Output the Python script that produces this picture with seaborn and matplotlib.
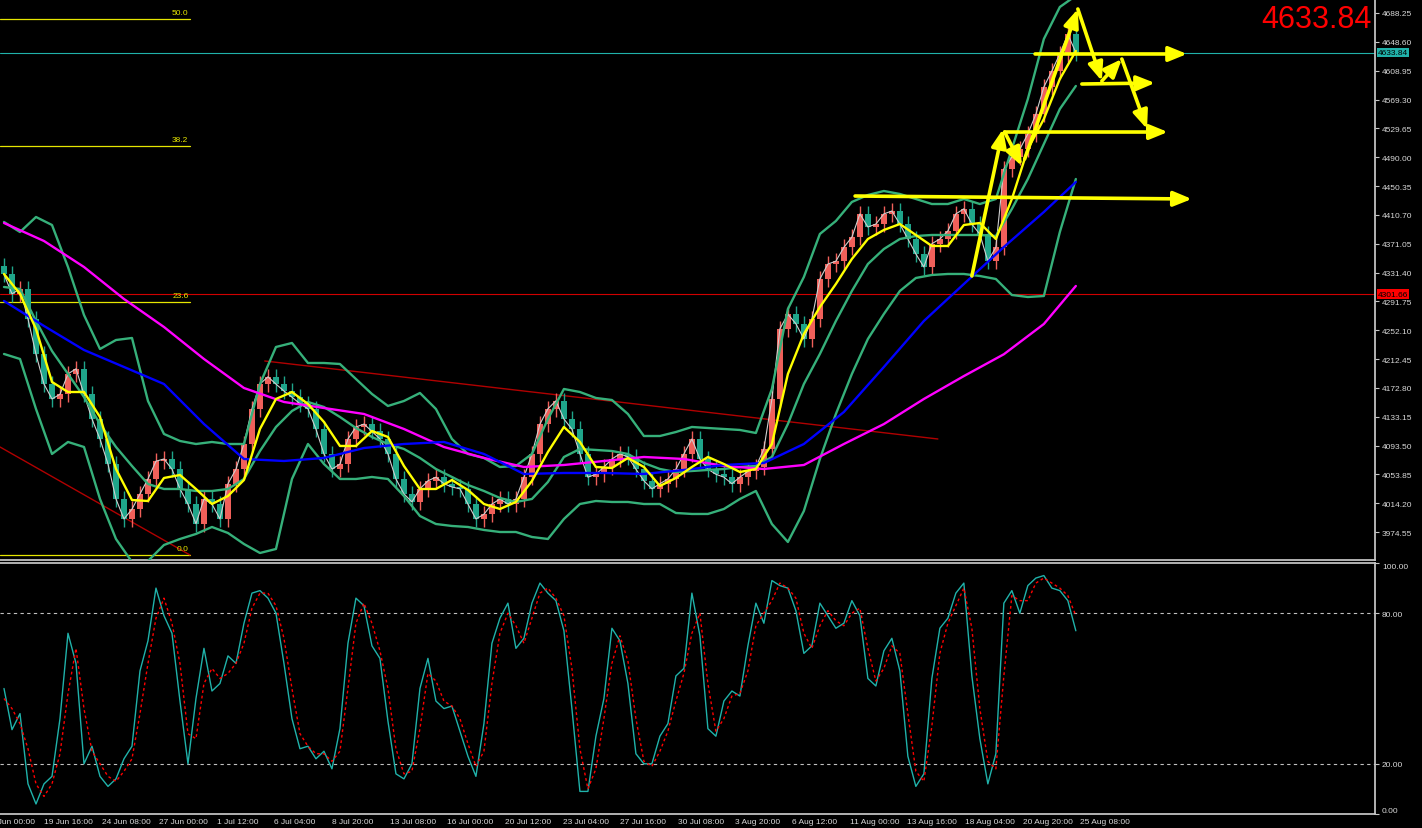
import matplotlib
matplotlib.use("Agg")
import matplotlib.pyplot as plt
import matplotlib.transforms as mtransforms
import numpy as np
import seaborn as sns

# candles, one per two chart bars, oldest first (close prices)
closes = [4329, 4302, 4309, 4267.5, 4219, 4178, 4157.5, 4164, 4192, 4199,
          4164, 4130, 4102.5, 4068, 4020, 3992.5, 4006, 4027, 4047.5, 4072,
          4075, 4061, 4034, 4013, 3986, 4020, 4013, 3992.5, 4041, 4061,
          4096, 4144, 4178, 4188, 4178, 4168.5, 4160, 4151, 4144, 4116,
          4082, 4061, 4068, 4102.5, 4119, 4123, 4113, 4102.5, 4082, 4047.5,
          4027, 4016, 4034, 4045, 4050, 4041, 4036.5, 4034, 4013, 3992.5,
          3999, 4013, 4020, 4013, 4020, 4050, 4082, 4123, 4144, 4155,
          4130, 4116, 4082, 4050, 4054, 4064, 4075, 4082, 4078, 4061,
          4045, 4034, 4041, 4047.5, 4061, 4082, 4102.5, 4075, 4061, 4054,
          4050, 4041, 4050, 4058, 4064, 4089, 4157.5, 4254, 4274, 4261,
          4240, 4267.5, 4322.5, 4343, 4347, 4366, 4380, 4412, 4394, 4398,
          4412, 4416, 4398, 4377.5, 4357, 4339, 4371, 4377.5, 4388.5, 4412,
          4419, 4398, 4384, 4347, 4366, 4474, 4490, 4501, 4522, 4549,
          4586.5, 4608.5, 4632, 4659, 4633.84]
first_open = 4340.0

# bollinger bands and fast MA, read every 2 candles
band_bars = list(range(0, 135, 2))
bb_upper = [4400.9, 4387.1, 4407.75, 4396.75, 4339, 4273, 4226.25, 4238.6, 4241.4, 4154.75,
            4109.4, 4099.75, 4095.6, 4098.4, 4095.6, 4095.6, 4178.1, 4229, 4234.5, 4207,
            4207, 4205.6, 4185, 4164.4, 4147.9, 4154.75, 4165.75, 4143.75, 4102.5, 4081.9,
            4076.4, 4064, 4065.4, 4081.9, 4130, 4171.25, 4167.1, 4158.9, 4156.1, 4136.9,
            4106.6, 4106.6, 4112.1, 4119, 4117.6, 4116.25, 4114.9, 4110.75, 4171.25, 4281.25,
            4325.25, 4384.4, 4402.25, 4428.4, 4438, 4443.5, 4439.4, 4432.5, 4425.6, 4425.6,
            4432.5, 4425.6, 4432.5, 4501.25, 4570, 4652.5, 4696.5, 4712]
bb_middle = [4311.5, 4308.75, 4264.75, 4223.5, 4191.9, 4160.25, 4123.1, 4091.5, 4065.4, 4040.6,
             4033.75, 4033.75, 4031, 4031, 4033.75, 4047.5, 4086, 4119, 4141, 4153.4,
             4146.5, 4132.75, 4117.6, 4105.25, 4095.6, 4088.75, 4076.4, 4061.25, 4050.25, 4039.25,
             4031, 4021.4, 4015.9, 4020, 4043.4, 4077.75, 4088.75, 4087.4, 4086, 4081.9,
             4069.5, 4061.25, 4057.1, 4058.5, 4059.9, 4061.25, 4064, 4065.4, 4077.75, 4123.1,
             4178.1, 4219.4, 4264.75, 4306, 4343.1, 4363.75, 4377.5, 4381.6, 4383, 4383,
             4383, 4383, 4381.6, 4418.75, 4460, 4508.1, 4556.25, 4587.9]
bb_lower = [4219.4, 4212.5, 4143.75, 4081.9, 4098.4, 4091.5, 4020, 3965, 3933.4, 3934.75,
            3956.75, 3965, 3971.9, 3981.5, 3973.25, 3958.1, 3945.75, 3951.25, 4047.5, 4095.6,
            4068.1, 4047.5, 4047.5, 4050.25, 4047.5, 4024.1, 3996.6, 3985.6, 3982.9, 3981.5,
            3977.4, 3974.6, 3974.6, 3967.75, 3965, 3992.5, 4013.1, 4017.25, 4015.9, 4015.9,
            4013.1, 4013.1, 4000.75, 3999.4, 3999.4, 4006.25, 4020, 4031, 3985.6, 3960.9,
            4003.5, 4075, 4136.9, 4191.9, 4240, 4274.4, 4306, 4323.9, 4328, 4329.4,
            4329.4, 4326.6, 4322.5, 4300.5, 4297.75, 4299.1, 4387.1, 4460]
ma_yellow = [4329.4, 4301.9, 4253.75, 4180.9, 4167.1, 4167.1, 4132.75, 4061.25, 4018.6, 4017.25,
             4048.9, 4053, 4033.75, 4013.1, 4024.1, 4046.1, 4116.25, 4157.5, 4167.1, 4150.6,
             4125.9, 4092.9, 4092.9, 4113.5, 4105.25, 4065.4, 4033.75, 4033.75, 4046.1, 4032.4,
             4013.1, 4006.25, 4015.9, 4044.75, 4084.6, 4119, 4098.4, 4064, 4062.6, 4076.4,
             4064, 4037.9, 4048.9, 4064, 4077.75, 4068.1, 4057.1, 4061.25, 4095.6, 4191.9,
             4246.9, 4284, 4315.6, 4350, 4377.5, 4389.9, 4398.1, 4383, 4367.9, 4367.9,
             4396.75, 4399.5, 4377.5, 4432.5, 4501.25, 4542.5, 4597.5, 4636]

# slow moving averages, read every 5 candles
slow_bars = list(range(0, 131, 5)) + [134]
ma_magenta = [4399.5, 4374.75, 4339, 4295, 4256.5, 4212.5, 4172.6, 4153.4, 4145.1, 4136.9,
              4116.25, 4091.5, 4076.4, 4064, 4066.75, 4072.25, 4077.75, 4075, 4065.4, 4061.25,
              4066.75, 4095.6, 4123, 4157.5, 4189, 4219, 4260.6, 4312.9]
ma_blue = [4292.25, 4257.9, 4224.9, 4201.5, 4178.1, 4123.1, 4075, 4072.25, 4076.4, 4090.1,
           4095.6, 4098.4, 4081.9, 4054.4, 4055.75, 4055.75, 4054.4, 4059.9, 4066.75, 4069.5,
           4095.6, 4139.6, 4201.5, 4264.75, 4315.6, 4366.5, 4414.6, 4455.9]

# stochastic oscillator
stoch_main = [50, 33.6, 40, 12, 4, 12, 15, 38, 72, 60,
              20, 27, 15, 11, 14, 22, 27, 57, 69, 90,
              79, 72, 45, 20, 46, 66, 49, 52, 63, 60,
              76, 88, 89, 86, 80, 60, 38, 26, 27, 22,
              25, 18, 34, 68, 86, 83, 67, 62, 37, 16,
              14, 20, 50, 62, 45, 42, 43, 33, 23, 15,
              36, 68, 78, 84, 66, 70, 84, 92, 88, 85,
              73, 42, 9, 9, 31, 46, 74, 69, 52, 24,
              20, 20, 31, 36, 55, 58, 88, 71, 34, 31,
              45, 49, 47, 67, 84, 76, 93, 91, 90, 81,
              64, 67, 84, 79, 74, 76, 85, 79, 54, 51,
              65, 70, 57, 23, 11, 16, 54, 74, 78, 88,
              92, 55, 30, 12, 24, 84, 89, 80, 91, 94,
              95, 90, 89, 85, 73]
stoch_signal = [46, 42, 36, 26, 12, 7, 12, 24, 48, 66,
                42, 25, 20, 15, 13, 17, 22, 40, 60, 78,
                86, 76, 60, 32, 30, 52, 58, 54, 56, 60,
                68, 82, 88, 88, 83, 70, 50, 32, 27, 24,
                24, 21, 25, 50, 76, 84, 76, 65, 50, 26,
                16, 17, 34, 56, 53, 45, 43, 38, 28, 19,
                25, 52, 72, 80, 75, 68, 78, 88, 90, 86,
                79, 58, 26, 10, 18, 38, 60, 71, 61, 38,
                21, 19, 25, 33, 45, 56, 72, 80, 52, 33,
                38, 47, 48, 57, 75, 80, 85, 92, 90, 86,
                72, 66, 75, 81, 77, 75, 80, 82, 66, 53,
                58, 67, 64, 40, 17, 13, 35, 64, 76, 83,
                90, 74, 42, 21, 18, 55, 87, 85, 85, 92,
                94, 92, 90, 87, 79]
stoch_levels = [20, 80]
stoch_ticks = [0, 20, 80, 100]

price_ticks = [4688.25, 4648.60, 4608.95, 4569.30, 4529.65, 4490.00, 4450.35, 4410.70,
               4371.05, 4331.40, 4291.75, 4252.10, 4212.45, 4172.80, 4133.15, 4093.50,
               4053.85, 4014.20, 3974.55]
last_price = 4633.84
red_level = 4301.66

fib_names = ["0.0", "23.6", "38.2", "50.0"]
fib_prices = [3943.0, 4291.0, 4506.0, 4680.0]
fib_span = [-0.5, 23.25]

trend_lines = [[(32.6, 4209.75), (116.75, 4102.5)],
               [(-0.5, 4091.5), (23.25, 3943.0)]]

# hand drawn yellow arrows (start, end) in candle index / price
arrows = [((106.4, 4436.6), (148.5, 4432.5)),
          ((125.1, 4524.6), (145.5, 4524.6)),
          ((128.9, 4631.9), (147.9, 4631.9)),
          ((134.75, 4590.6), (143.9, 4592.0)),
          ((121.0, 4326.6), (124.9, 4528.75)),
          ((125.1, 4524.6), (127.25, 4477.9)),
          ((127.6, 4487.5), (134.25, 4693.75)),
          ((134.25, 4693.75), (137.25, 4594.75)),
          ((137.25, 4594.75), (139.75, 4625.0)),
          ((139.75, 4625.0), (142.9, 4528.75))]

time_labels = ["17 Jun 00:00", "19 Jun 16:00", "24 Jun 08:00", "27 Jun 00:00", "1 Jul 12:00",
               "6 Jul 04:00", "8 Jul 20:00", "13 Jul 08:00", "16 Jul 00:00", "20 Jul 12:00",
               "23 Jul 04:00", "27 Jul 16:00", "30 Jul 08:00", "3 Aug 20:00", "6 Aug 12:00",
               "11 Aug 00:00", "13 Aug 16:00", "18 Aug 04:00", "20 Aug 20:00", "25 Aug 08:00"]
time_pos = [-2.44, 4.75, 12.0, 19.13, 26.38, 33.5, 40.75, 48.0, 55.13, 62.38,
            69.63, 76.75, 84.0, 91.13, 98.25, 105.5, 112.63, 119.88, 127.13, 134.25]

sns.set_theme(style="dark", rc={"axes.facecolor": "black", "figure.facecolor": "black",
                                "axes.grid": False})
plt.rcParams["font.family"] = ["Liberation Sans", "DejaVu Sans"]

W, H = 1422, 829
fig = plt.figure(figsize=(W / 100, H / 100), dpi=100)
ax = fig.add_axes([0, (H - 561) / H, 1375 / W, 561 / H])
ax2 = fig.add_axes([0, (H - 815) / H, 1375 / W, (815 - 564) / H], sharex=ax)

axis_col = "#c8c8c8"
text_col = "#d8d8d8"
bull = "#f0605a"
bear = "#1fa58a"
wick = 11.0

# candles
idx = np.arange(len(closes))
c = np.array(closes, dtype=float)
o = np.concatenate([[first_open], c[:-1]])
hi = np.maximum(o, c) + wick
lo = np.minimum(o, c) - wick
cols = [bull if cc >= oo else bear for oo, cc in zip(o, c)]
ax.vlines(idx, lo, hi, colors=cols, lw=1.0, zorder=2)
ax.bar(idx, np.maximum(np.abs(c - o), 1.5), bottom=np.minimum(o, c), width=0.72,
       color=cols, linewidth=0, zorder=3)

# indicator lines
sns.lineplot(x=idx, y=c, ax=ax, color="#d0d0d0", lw=0.8, zorder=4)
for band in (bb_upper, bb_middle, bb_lower):
    sns.lineplot(x=band_bars, y=band, ax=ax, color="#36b07a", lw=1.7, zorder=4)
sns.lineplot(x=slow_bars, y=ma_magenta, ax=ax, color="#ff00ff", lw=1.7, zorder=4)
sns.lineplot(x=slow_bars, y=ma_blue, ax=ax, color="#0000ff", lw=1.7, zorder=4)
sns.lineplot(x=band_bars, y=ma_yellow, ax=ax, color="#ffff00", lw=1.7, zorder=5)

# horizontal levels
ax.axhline(last_price, color="#20b2aa", lw=0.8, zorder=1)
ax.axhline(red_level, color="#d00000", lw=0.8, zorder=1)
for name, p in zip(fib_names, fib_prices):
    ax.plot(fib_span, [p, p], color="#e6e600", lw=0.9, zorder=1)
    ax.text(fib_span[1] - 0.2, p + 4, name, color="#e6e600", fontsize=6,
            ha="right", va="bottom", zorder=6)

for (p0, p1) in trend_lines:
    ax.plot([p0[0], p1[0]], [p0[1], p1[1]], color="#b00000", lw=1.0, zorder=1)

for start, end in arrows:
    ax.annotate("", xy=end, xytext=start,
                arrowprops=dict(arrowstyle="-|>,head_length=1.1,head_width=0.45",
                                color="#ffff00", lw=2.6, shrinkA=0, shrinkB=0,
                                mutation_scale=10), zorder=7)

ax.set_xlim(-0.5, 171.4)
ax.set_ylim(3936.1, 4707.5)
ax.yaxis.tick_right()
ax.set_yticks(price_ticks)
ax.set_yticklabels([f"{t:.2f}" for t in price_ticks])
ax.tick_params(axis="y", colors=axis_col, labelcolor=text_col, labelsize=6,
               length=3, width=0.8, pad=2, direction="out")
ax.tick_params(axis="x", bottom=False, labelbottom=False)
for s in ("left", "top"):
    ax.spines[s].set_visible(False)
ax.spines["right"].set_color(axis_col)
ax.spines["bottom"].set_color(axis_col)
ax.set_xlabel("")
ax.set_ylabel("")

btf = mtransforms.blended_transform_factory(ax.transAxes, ax.transData)
ax.text(1.002, last_price, f"{last_price:.2f}", transform=btf, fontsize=6, color="black",
        ha="left", va="center", zorder=8,
        bbox=dict(boxstyle="square,pad=0.15", fc="#20b2aa", ec="none"))
ax.text(1.002, red_level, f"{red_level:.2f}", transform=btf, fontsize=6, color="black",
        ha="left", va="center", zorder=8,
        bbox=dict(boxstyle="square,pad=0.15", fc="#ff0000", ec="none"))
fig.text(1372 / W, 1 - 20 / H, f"{last_price:.2f}", color="#ff0000", fontsize=22,
         ha="right", va="center")

# stochastic panel
sns.lineplot(x=idx, y=stoch_main, ax=ax2, color="#20b2aa", lw=1.0, zorder=3)
sns.lineplot(x=idx, y=stoch_signal, ax=ax2, color="#ff0000", lw=1.0,
             linestyle=(0, (2, 2)), zorder=4)
for lv in stoch_levels:
    ax2.axhline(lv, color="#c0c0c0", lw=0.8, linestyle=(0, (3, 3)), zorder=1)
ax2.set_ylim(0, 100)
ax2.yaxis.tick_right()
ax2.set_yticks(stoch_ticks)
ax2.set_yticklabels([f"{t:.2f}" for t in stoch_ticks])
ax2.tick_params(axis="y", colors=axis_col, labelcolor=text_col, labelsize=6,
                length=3, width=0.8, pad=2, direction="out")
ylabs = ax2.get_yticklabels()
ylabs[0].set_va("bottom")
ylabs[-1].set_va("top")
ax2.set_xticks(time_pos[1:])
ax2.set_xticklabels([])
ax2.tick_params(axis="x", colors=axis_col, length=3, width=0.8, direction="out")
xtf = mtransforms.blended_transform_factory(ax2.transData, ax2.transAxes)
for lab, pos in zip(time_labels, time_pos):
    ax2.text(pos + 0.25, -0.015, lab, transform=xtf, fontsize=6, color=text_col,
             ha="left", va="top", clip_on=False)
ax2.spines["left"].set_visible(False)
for s in ("right", "top", "bottom"):
    ax2.spines[s].set_color(axis_col)
ax2.set_xlabel("")
ax2.set_ylabel("")
ax2.set_xlim(-0.5, 171.4)

fig.savefig("out.png", dpi=100, facecolor="black")
